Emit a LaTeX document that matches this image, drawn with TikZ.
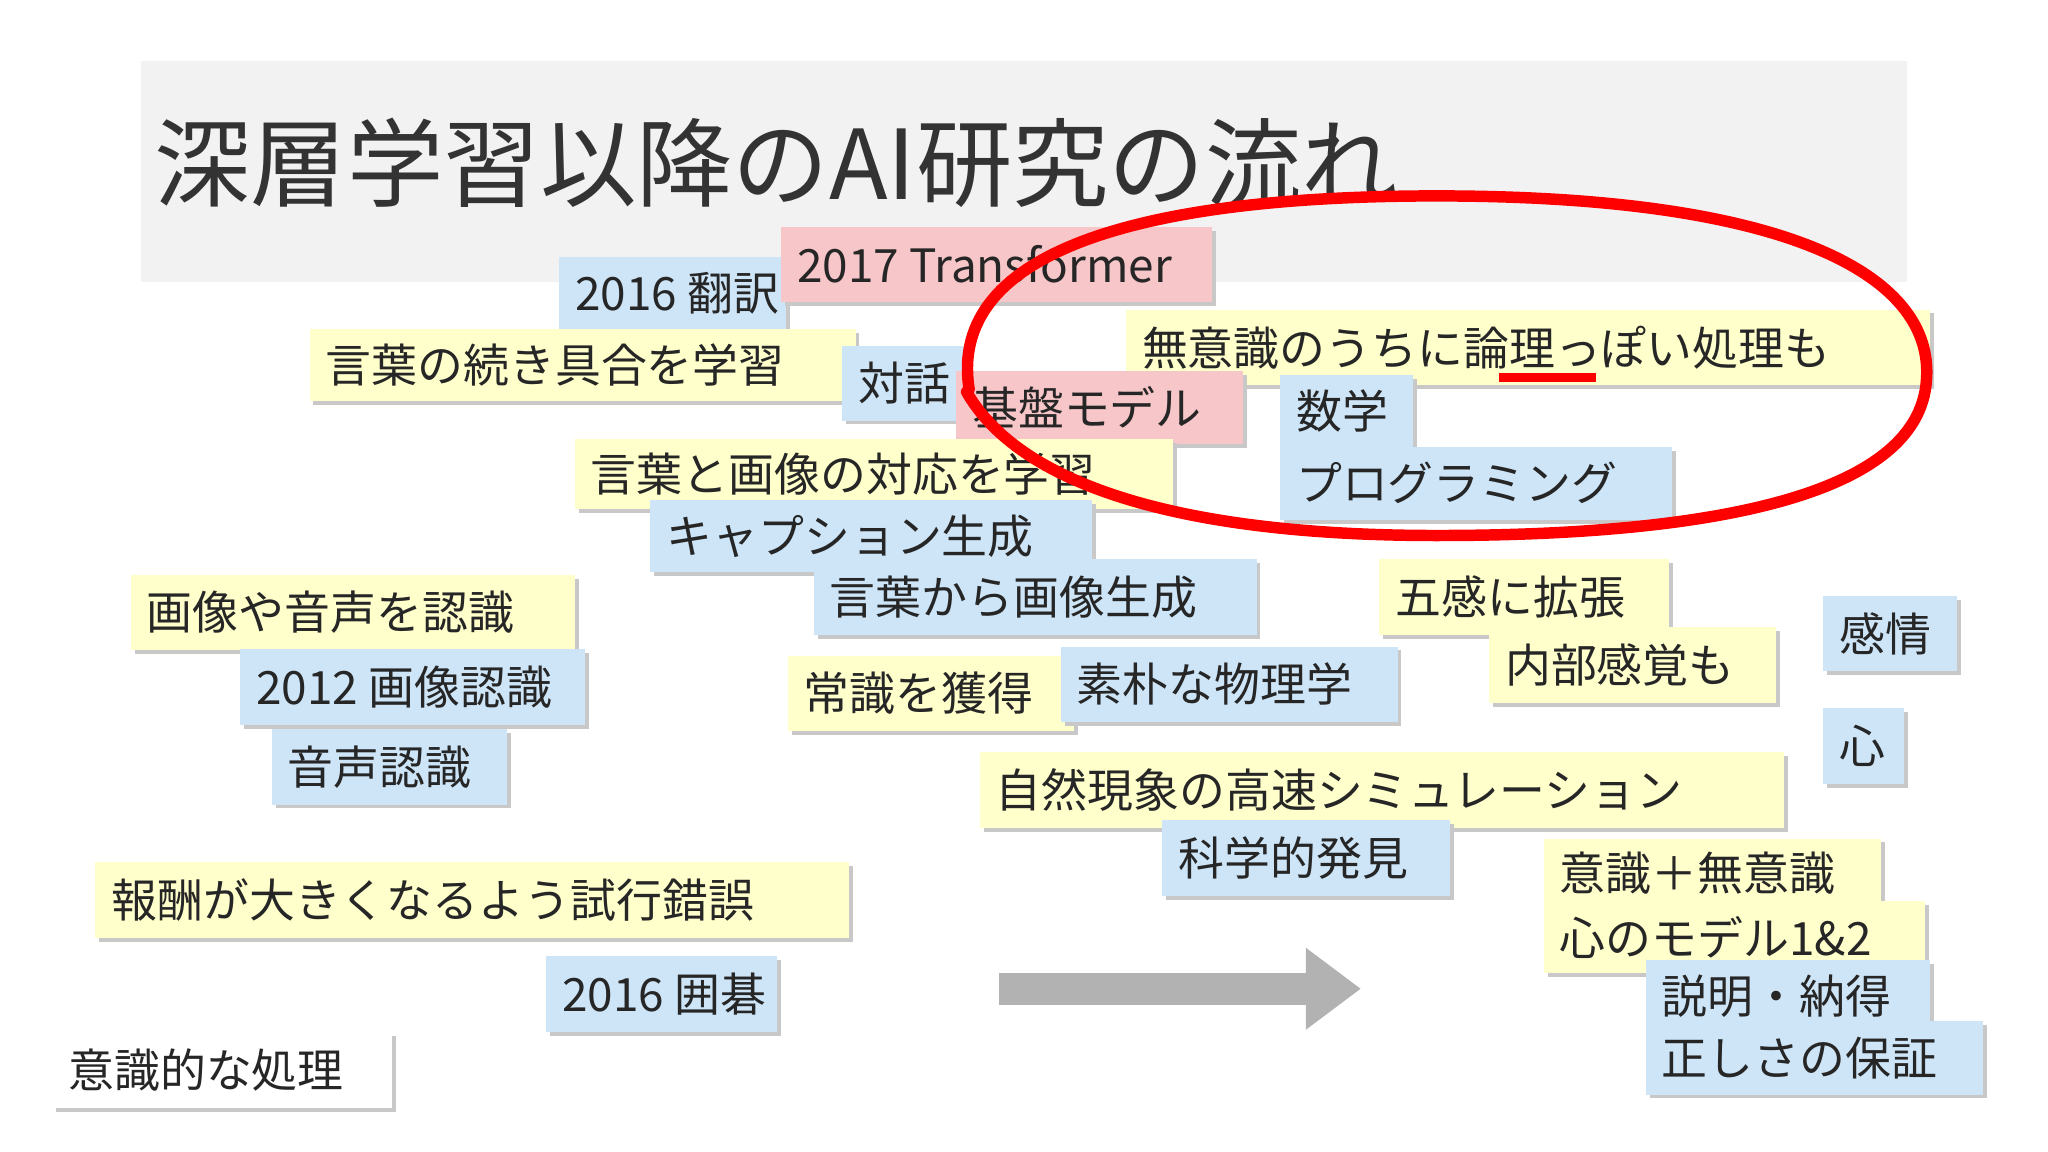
\documentclass[tikz,border=0pt]{standalone}
\usepackage{fontspec}
\setmainfont{Noto Sans CJK JP}
\usetikzlibrary{arrows.meta}
\definecolor{yel}{HTML}{FFFFCC}
\definecolor{blu}{HTML}{CDE5F7}
\definecolor{pnk}{HTML}{F6C6C8}
\definecolor{ttl}{HTML}{F2F2F2}
\definecolor{shd}{HTML}{C8C8C8}
\tikzset{lbl/.style={anchor=west,inner sep=0pt,font=\fontsize{20}{22}\selectfont,text=black!85}}
\newcommand{\bx}[7]{%
  \fill[shd] (#2+3,#3+3) rectangle (#4+3,#5+3);
  \fill[#6] (#2,#3) rectangle (#4,#5);
  \node[lbl] (#1) at (#2+12,{(#3+#5)/2}) {#7};}
\begin{document}
\begin{tikzpicture}[x=0.02cm,y=-0.02cm]
\useasboundingbox (0,0) rectangle (1568,882);
\fill[white] (0,0) rectangle (1568,882);
\fill[ttl] (108,47) rectangle (1460,216);
\node[anchor=west,inner sep=0pt,font=\fontsize{42}{46}\selectfont,text=black!80] (title) at (118,125) {深層学習以降のAI研究の流れ};
\bx{b1}{428}{197}{602}{252}{blu}{2016 翻訳}
\bx{b2}{598}{174}{928}{231}{pnk}{2017 Transformer}
\bx{b3}{237}{252}{655}{307}{yel}{言葉の続き具合を学習}
\bx{b4}{645}{265}{742}{322}{blu}{対話}
\bx{b6}{862}{237}{1478}{295}{yel}{無意識のうちに論理っぽい処理も}
\bx{b5}{732}{284}{952}{340}{pnk}{基盤モデル}
\bx{b7}{980}{287}{1082}{343}{blu}{数学}
\bx{b8}{980}{342}{1280}{398}{blu}{プログラミング}
\bx{b9}{440}{336}{898}{390}{yel}{言葉と画像の対応を学習}
\bx{b10}{498}{383}{836}{438}{blu}{キャプション生成}
\bx{b11}{623}{428}{962}{486}{blu}{言葉から画像生成}
\bx{b12}{1056}{428}{1278}{486}{yel}{五感に拡張}
\bx{b13}{1396}{456}{1498}{514}{blu}{感情}
\bx{b14}{1140}{480}{1360}{538}{yel}{内部感覚も}
\bx{b15}{100}{440}{440}{498}{yel}{画像や音声を認識}
\bx{b16}{184}{497}{448}{555}{blu}{2012 画像認識}
\bx{b17}{208}{558}{388}{616}{blu}{音声認識}
\bx{b18}{603}{502}{822}{560}{yel}{常識を獲得}
\bx{b19}{812}{495}{1070}{553}{blu}{素朴な物理学}
\bx{b20}{1396}{542}{1458}{600}{blu}{心}
\bx{b21}{750}{576}{1366}{634}{yel}{自然現象の高速シミュレーション}
\bx{b22}{890}{628}{1110}{686}{blu}{科学的発見}
\bx{b23}{1182}{642}{1440}{695}{yel}{意識＋無意識}
\bx{b24}{1182}{690}{1474}{745}{yel}{心のモデル1\&2}
\bx{b25}{1260}{735}{1478}{790}{blu}{説明・納得}
\bx{b26}{1260}{782}{1518}{838}{blu}{正しさの保証}
\bx{b27}{73}{660}{650}{718}{yel}{報酬が大きくなるよう試行錯誤}
\bx{b28}{418}{732}{595}{790}{blu}{2016 囲碁}
\bx{b29}{40}{790}{300}{848}{white}{意識的な処理}
\coordinate (u1) at (1148,289);
\coordinate (u2) at (1222,289);
\draw[red,line width=4pt] (u1) -- (u2);
\coordinate (a1) at (765,757);
\coordinate (a2) at (1042,757);
\draw[black!30,line width=14pt,-{Triangle[length=24pt,width=34pt]}] (a1) -- (a2);
\draw[red,line width=5pt,line cap=round] (742,298) .. controls (725,190) and (880,150) .. (1100,150)
 .. controls (1380,150) and (1480,215) .. (1475,290)
 .. controls (1470,385) and (1290,410) .. (1100,410)
 .. controls (900,410) and (780,370) .. (740,300);
\end{tikzpicture}
\end{document}
